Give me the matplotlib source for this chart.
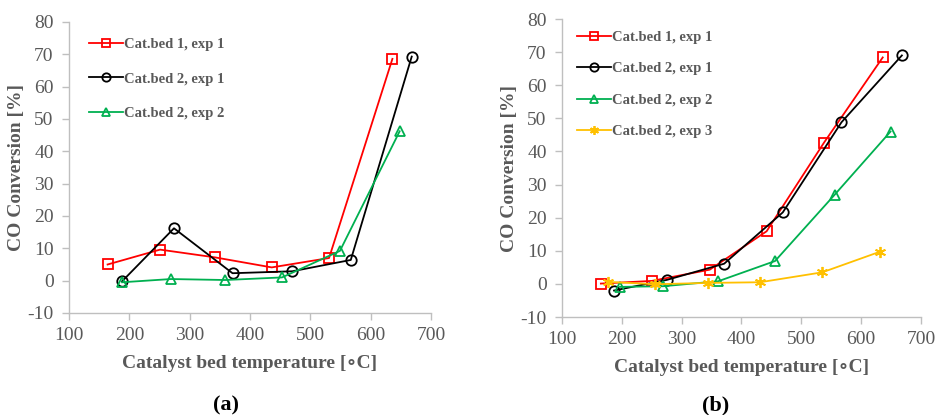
import matplotlib
matplotlib.use("Agg")
import matplotlib.pyplot as plt

plt.rcParams['font.family'] = ['Liberation Serif', 'DejaVu Serif']
plt.rcParams['axes.unicode_minus'] = False

GRAY = "#595959"
SPINE = "#bfbfbf"

# panel (a)
a_bed1_exp1_t = [164, 251, 342, 436, 531, 636]
a_bed1_exp1_c = [5.0, 9.6, 7.2, 4.1, 7.0, 68.6]
a_bed2_exp1_t = [188, 274, 371, 470, 567, 668]
a_bed2_exp1_c = [-0.2, 16.2, 2.3, 2.9, 6.4, 69.3]
a_bed2_exp2_t = [188, 269, 359, 453, 549, 648]
a_bed2_exp2_c = [-0.5, 0.5, 0.2, 1.0, 9.2, 46.2]

# panel (b)
b_bed1_exp1_t = [165, 250, 347, 442, 538, 636]
b_bed1_exp1_c = [0.1, 0.9, 4.3, 15.9, 42.7, 68.4]
b_bed2_exp1_t = [187, 275, 371, 469, 567, 668]
b_bed2_exp1_c = [-2.0, 1.2, 6.1, 21.6, 48.8, 69.0]
b_bed2_exp2_t = [197, 269, 361, 456, 556, 649]
b_bed2_exp2_c = [-0.9, -0.7, 0.8, 6.9, 27.0, 46.0]
b_bed2_exp3_t = [177, 256, 344, 431, 535, 631]
b_bed2_exp3_c = [0.6, -0.1, 0.3, 0.5, 3.5, 9.7]

labels = ["Cat.bed 1, exp 1", "Cat.bed 2, exp 1", "Cat.bed 2, exp 2", "Cat.bed 2, exp 3"]
colors = ["#ff0000", "#000000", "#00b050", "#ffc000"]
markers = ["s", "o", "^", "x"]

xticks = [100, 200, 300, 400, 500, 600, 700]
yticks = [-10, 0, 10, 20, 30, 40, 50, 60, 70, 80]


def style_axes(ax):
    ax.set_xlim(100, 700)
    ax.set_ylim(-10, 80)
    ax.set_xticks(xticks)
    ax.set_yticks(yticks)
    for s in ["top", "right"]:
        ax.spines[s].set_visible(False)
    for s in ["left", "bottom"]:
        ax.spines[s].set_color(SPINE)
        ax.spines[s].set_linewidth(1.0)
    ax.tick_params(colors=SPINE, labelcolor=GRAY, labelsize=14, length=5, width=1)
    ax.tick_params(axis="y", pad=6)
    ax.tick_params(axis="x", pad=5)
    ax.set_xlabel("Catalyst bed temperature [\u2218C]", fontsize=14, fontweight="bold",
                  color=GRAY, labelpad=8)
    ax.set_ylabel("CO Conversion [%]", fontsize=14, fontweight="bold", color=GRAY, labelpad=2)


def draw(ax, series):
    for i, (t, c) in enumerate(series):
        mk = markers[i]
        if mk == "x":
            ax.plot(t, c, "-", color=colors[i], lw=1.3, marker=(6, 2, 0), ms=8,
                    mew=1.3, label=labels[i])
        else:
            ax.plot(t, c, "-", color=colors[i], lw=1.3, marker=mk, ms=7.5,
                    mfc="none", mew=1.3, label=labels[i])


fig = plt.figure(figsize=(9.36, 4.15), dpi=100)
ax1 = fig.add_axes([0.0737, 0.2458, 0.3868, 0.7012])
ax2 = fig.add_axes([0.6004, 0.2361, 0.3836, 0.7181])

draw(ax1, [(a_bed1_exp1_t, a_bed1_exp1_c), (a_bed2_exp1_t, a_bed2_exp1_c),
           (a_bed2_exp2_t, a_bed2_exp2_c)])
draw(ax2, [(b_bed1_exp1_t, b_bed1_exp1_c), (b_bed2_exp1_t, b_bed2_exp1_c),
           (b_bed2_exp2_t, b_bed2_exp2_c), (b_bed2_exp3_t, b_bed2_exp3_c)])

for ax in (ax1, ax2):
    style_axes(ax)

leg1 = ax1.legend(loc="upper left", bbox_to_anchor=(0.02, 0.99), frameon=False,
                  prop={"size": 10.5, "weight": "bold"}, handlelength=2.3,
                  handletextpad=0.1, labelspacing=1.45, markerscale=0.8)
leg2 = ax2.legend(loc="upper left", bbox_to_anchor=(0.006, 1.005), frameon=False,
                  prop={"size": 10.5, "weight": "bold"}, handlelength=2.3,
                  handletextpad=0.1, labelspacing=1.25, markerscale=0.8)
for leg in (leg1, leg2):
    for txt in leg.get_texts():
        txt.set_color(GRAY)

fig.text(0.2415, 0.0, "(a)", ha="center", va="bottom", fontsize=16, fontweight="bold")
fig.text(0.765, 0.0, "(b)", ha="center", va="bottom", fontsize=16, fontweight="bold")

fig.savefig("out.png", dpi=100)
